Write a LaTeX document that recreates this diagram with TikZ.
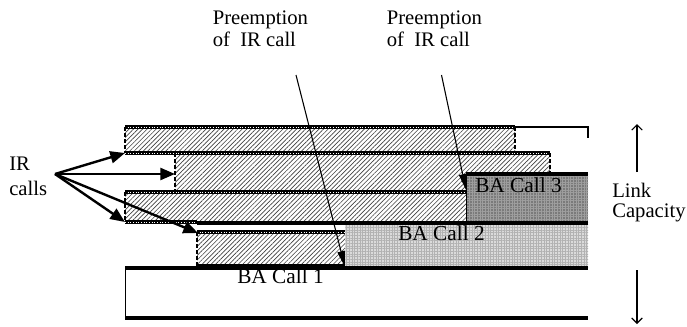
\documentclass[tikz,border=0pt]{standalone}
\usepackage{fontspec}
\setmainfont{Liberation Serif}
\usetikzlibrary{arrows.meta,patterns.meta}

\tikzset{
  hatch/.style={pattern={Lines[angle=45,distance=2.4pt,line width=0.5pt]},pattern color=black!75},
  grain/.style={pattern={Hatch[angle=0,distance=2pt,line width=0.55pt]}},
  rail/.style={line width=3pt,postaction={draw=white,line width=0.7pt,dash pattern=on 0.5pt off 1.5pt}},
  vdash/.style={line width=2pt,dash pattern=on 3pt off 1.5pt},
  solidedge/.style={line width=2.4pt},
  thinedge/.style={line width=0.7pt},
  callarrow/.style={line width=1.8pt,-{Triangle[length=11pt,width=9pt]}},
  preemptarrow/.style={line width=0.8pt,-{Triangle[length=12pt,width=5.5pt]}},
  caparrow/.style={line width=0.8pt,-{Straight Barb[length=4pt,width=8pt]}},
  lbl/.style={inner sep=0pt,anchor=base west,font=\fontsize{15.5}{18}\selectfont},
  balbl/.style={inner sep=0pt,anchor=base west,font=\fontsize{16}{19}\selectfont},
}

\begin{document}
\begin{tikzpicture}[x=0.75pt,y=-0.75pt]
\useasboundingbox (0,0) rectangle (687,326);

% hatched IR call areas
\fill[hatch] (125,127) rectangle (515,153);
\fill[hatch] (175,153) rectangle (550,192);
\fill[hatch] (125,192) rectangle (466,222);
\fill[hatch] (197,232) rectangle (345,266);

% BA call areas
\fill[black!52] (466,174) rectangle (588,222);
\fill[grain,pattern color=black!38] (466,174) rectangle (588,222);
\fill[black!14] (345,223) rectangle (588,268);
\fill[grain,pattern color=black!30] (345,223) rectangle (588,268);
\fill[white] (125,268) rectangle (588,318);

% link outline
\draw[line width=1.8pt] (125,127) -- (588,127) -- (588,138);

% IR call borders
\draw[rail] (125,127) -- (515,127);
\draw[vdash] (125,127) -- (125,153);
\draw[vdash] (515,127) -- (515,153);
\draw[rail] (125,153) -- (550,153);
\draw[vdash] (175,153) -- (175,192);
\draw[vdash] (550,153) -- (550,174);
\draw[rail] (125,192) -- (466,192);
\draw[vdash] (125,192) -- (125,222);
\draw[rail] (125,222) -- (197,222);
\draw[solidedge] (197,223) -- (588,223);
\draw[rail] (197,232) -- (345,232);
\draw[vdash] (197,232) -- (197,266);
\draw[rail] (197,266) -- (345,266);

% BA call borders
\draw[solidedge] (466,174) -- (588,174);
\draw[thinedge] (466,174) -- (466,222);
\draw[solidedge] (125,268) -- (588,268);
\draw[thinedge] (125,268) -- (125,318);
\draw[line width=3pt] (125,318) -- (588,318);

% labels
\node[balbl] (ba3) at (475,192) {BA Call 3};
\node[balbl] (ba2) at (398,240) {BA Call 2};
\node[balbl] (ba1) at (237,283) {BA Call 1};

\node[lbl] (ir1) at (9,170) {IR};
\node[lbl] (ir2) at (9,195) {calls};

\node[lbl] (pa1) at (212.5,24) {Preemption};
\node[lbl] (pa2) at (212.5,46.5) {of\ \ IR call};
\node[lbl] (pb1) at (386.5,24) {Preemption};
\node[lbl] (pb2) at (386.5,46.5) {of\ \ IR call};

\node[lbl] (lk1) at (612,197) {Link};
\node[lbl] (lk2) at (612,217) {Capacity};

% IR call arrows
\coordinate (irsrc) at (55,174);
\coordinate (t1) at (125,153);
\coordinate (t2) at (175,174);
\coordinate (t3) at (125,222);
\coordinate (t4) at (198,233);
\draw[callarrow] (irsrc) -- (t1);
\draw[callarrow] (irsrc) -- (t2);
\draw[callarrow] (irsrc) -- (t3);
\draw[callarrow] (irsrc) -- (t4);

% preemption arrows
\coordinate (pas) at (296,75);
\coordinate (pat) at (345,267);
\coordinate (pbs) at (441.5,75);
\coordinate (pbt) at (466,190);
\draw[preemptarrow] (pas) -- (pat);
\draw[preemptarrow] (pbs) -- (pbt);

% link capacity arrows
\coordinate (cu0) at (637,172);
\coordinate (cu1) at (637,124);
\coordinate (cd0) at (637,270);
\coordinate (cd1) at (637,324);
\draw[caparrow] (cu0) -- (cu1);
\draw[caparrow] (cd0) -- (cd1);
\end{tikzpicture}
\end{document}
